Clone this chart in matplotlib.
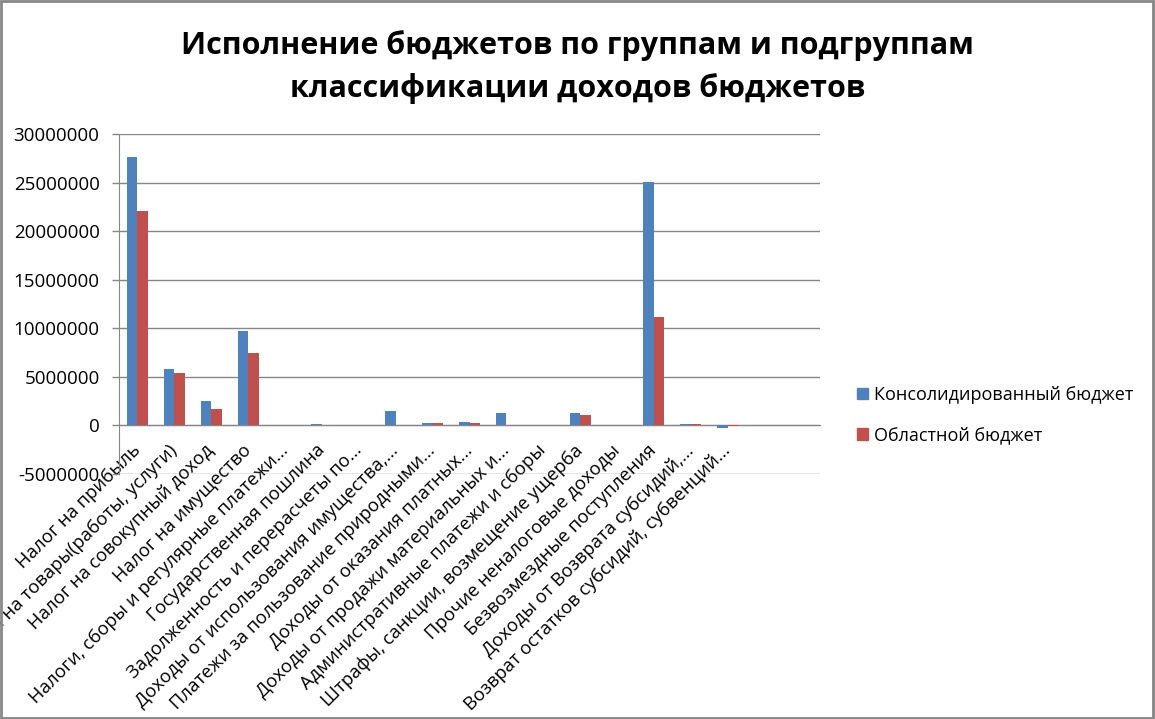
import numpy as np
import matplotlib
matplotlib.use("Agg")
import matplotlib.pyplot as plt
from matplotlib.patches import Patch, Rectangle

plt.rcParams["font.family"] = ["Open Sans", "DejaVu Sans"]

categories = [
    "Налог на прибыль",
    "Налоги на товары(работы, услуги)",
    "Налог на совокупный доход",
    "Налог на имущество",
    "Налоги, сборы и регулярные платежи...",
    "Государственная пошлина",
    "Задолженность и перерасчеты по...",
    "Доходы от использования имущества,...",
    "Платежи за пользование природными...",
    "Доходы от оказания платных...",
    "Доходы от продажи материальных и...",
    "Административные платежи и сборы",
    "Штрафы, санкции, возмещение ущерба",
    "Прочие неналоговые доходы",
    "Безвозмездные поступления",
    "Доходы от Возврата субсидий,...",
    "Возврат остатков субсидий, субвенций...",
    "",
    "",
]
consolidated = [27670000, 5780000, 2480000, 9700000, 0, 140000, 0, 1480000, 200000,
                310000, 1240000, 0, 1240000, 0, 25050000, 130000, -270000, 0, 0]
regional = [22100000, 5370000, 1650000, 7430000, 0, 0, 0, 0, 200000,
            200000, 0, 0, 1030000, 0, 11200000, 130000, -100000, 0, 0]
series_names = ["Консолидированный бюджет", "Областной бюджет"]
colors = ["#4F81BD", "#C0504D"]
grid_color = "#868686"

W, H = 1155, 719
fig = plt.figure(figsize=(W / 100, H / 100), dpi=100)
ax = fig.add_axes([119 / W, 1 - 474 / H, (820 - 119) / W, (474 - 134) / H])

x = np.arange(len(categories))
w = 0.285
ax.bar(x - w / 2, consolidated, w, color=colors[0], label=series_names[0], zorder=3)
ax.bar(x + w / 2, regional, w, color=colors[1], label=series_names[1], zorder=3)

ax.set_xlim(-0.5, len(categories) - 0.5)
ax.set_ylim(-5000000, 30000000)
ax.set_yticks(np.arange(-5000000, 30000001, 5000000))
ax.yaxis.set_major_formatter(matplotlib.ticker.FuncFormatter(lambda v, p: f"{int(v)}"))
ax.grid(axis="y", color=grid_color, linewidth=1.0, zorder=1)

for s in ["top", "right"]:
    ax.spines[s].set_visible(False)
ax.spines["left"].set_color(grid_color)
ax.spines["bottom"].set_color(grid_color)
ax.spines["bottom"].set_position(("data", 0))
ax.tick_params(axis="y", colors=grid_color, length=5, width=1, pad=9, labelcolor="black",
               labelsize=13.5)
ax.tick_params(axis="x", length=0, pad=16, labelsize=13.3)

ax.set_xticks(x)
ax.set_xticklabels(categories, rotation=45, ha="right", va="center", rotation_mode="anchor")

fig.text(0.5, 1 - 46 / H, "Исполнение бюджетов по группам и подгруппам",
         ha="center", va="center", fontsize=22, fontweight="bold")
fig.text(0.5, 1 - 88 / H, "классификации доходов бюджетов",
         ha="center", va="center", fontsize=22, fontweight="bold")

handles = [Patch(color=c) for c in colors]
fig.legend(handles, series_names, loc="center left", bbox_to_anchor=(841 / W, 1 - 415 / H),
           frameon=False, fontsize=13, handlelength=0.6, handleheight=0.6,
           handletextpad=0.35, labelspacing=1.25)

fig.patches.append(Rectangle((0.001, 0.001), 0.997, 0.997, transform=fig.transFigure,
                             fill=False, edgecolor=grid_color, linewidth=2))

fig.savefig("out.png", dpi=100)
